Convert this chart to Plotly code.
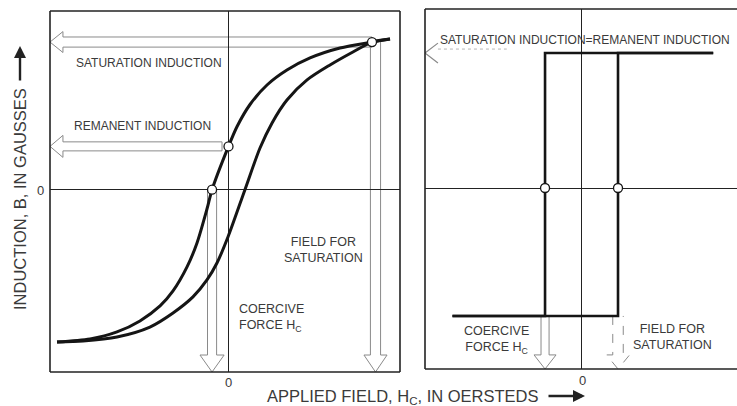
import plotly.graph_objects as go

# ---------------- data (arbitrary units) ----------------
# Left panel: soft material hysteresis loop
desc_H = [9.23, 8.2, 6.37, 4.66, 3.34, 2.2, 1.23, 0.49, 0.0, -0.94, -1.23, -1.8, -2.37, -3.17, -3.91, -5.06, -6.37, -7.91, -9.8]
desc_B = [8.35, 8.18, 7.85, 7.30, 6.63, 5.80, 4.72, 3.50, 2.4, 0.0, -1.07, -2.95, -4.28, -5.61, -6.44, -7.27, -7.88, -8.27, -8.44]
asc_H = [-9.8, -8.31, -6.37, -4.49, -3.17, -2.03, -1.23, -0.66, -0.03, 0.94, 1.8, 2.49, 3.34, 4.49, 5.8, 7.11, 8.2, 9.23]
asc_B = [-8.44, -8.38, -8.16, -7.61, -6.83, -5.94, -5.0, -4.06, -2.62, 0.0, 2.31, 3.70, 4.97, 6.08, 6.91, 7.63, 8.18, 8.35]
left_pts_H = [8.2, 0.0, -0.94]      # saturation, remanence, coercive force
left_pts_B = [8.18, 2.4, 0.0]

# Right panel: ideal square loop
sq_asc_H = [-7.4, 2.06, 2.06, 7.5]
sq_asc_B = [-7.09, -7.09, 7.48, 7.48]
sq_desc_H = [7.5, -2.11, -2.11, -7.4]
sq_desc_B = [7.48, 7.48, -7.09, -7.09]
right_pts_H = [-2.11, 2.06]
right_pts_B = [0.0, 0.0]

LX = [-10.2, 9.8]
LY = [-10.1, 9.9]
RX = [-8.97, 8.86]
RY = [-10.03, 9.92]

W, H = 737, 406
INK = "#151515"
FRAME = "#222222"
ARROW = "#8a8a8a"
TXT = "#3a3a3a"
FONT = "Liberation Sans, Arial, sans-serif"

fig = go.Figure()

def curve(x, y, xa, ya, w=3):
    fig.add_trace(go.Scatter(x=x, y=y, mode="lines", xaxis=xa, yaxis=ya,
                             line=dict(color=INK, width=w, shape="spline", smoothing=0.8),
                             hoverinfo="skip", showlegend=False))

def poly(x, y, xa, ya, w=2.6):
    fig.add_trace(go.Scatter(x=x, y=y, mode="lines", xaxis=xa, yaxis=ya,
                             line=dict(color=INK, width=w),
                             hoverinfo="skip", showlegend=False))

curve(desc_H, desc_B, "x", "y")
curve(asc_H, asc_B, "x", "y")
poly(sq_asc_H, sq_asc_B, "x2", "y2")
poly(sq_desc_H, sq_desc_B, "x2", "y2")

# ---------------- hollow arrows ----------------
def left_arrow(xt, x0, yc, hw, hh, hl, xr, yr, closed=False, dash="solid"):
    p = (f"M {x0},{yc+hw} L {xt+hl},{yc+hw} L {xt+hl},{yc+hh} L {xt},{yc} "
         f"L {xt+hl},{yc-hh} L {xt+hl},{yc-hw} L {x0},{yc-hw}")
    if closed:
        p += " Z"
    fig.add_shape(type="path", path=p, xref=xr, yref=yr,
                  line=dict(color=ARROW, width=1, dash=dash), layer="below")

def down_arrow(xc, y0, yt, hw, hh, hl, xr, yr, dash="solid"):
    p = (f"M {xc-hw},{y0} L {xc-hw},{yt+hl} L {xc-hh},{yt+hl} L {xc},{yt} "
         f"L {xc+hh},{yt+hl} L {xc+hw},{yt+hl} L {xc+hw},{y0}")
    fig.add_shape(type="path", path=p, xref=xr, yref=yr,
                  line=dict(color=ARROW, width=1, dash=dash), layer="below")

# left panel
left_arrow(LX[0], 8.2, 8.18, 0.28, 0.58, 0.74, "x", "y")
left_arrow(LX[0], -0.37, 2.4, 0.25, 0.61, 0.74, "x", "y", closed=True)
down_arrow(-0.94, 0.0, LY[0], 0.26, 0.69, 0.94, "x", "y")
down_arrow(8.4, 8.18, LY[0], 0.29, 0.66, 0.94, "x", "y")
# right panel
fig.add_shape(type="path",
              path=f"M -8.23,8.03 L -8.97,7.48 L -8.23,6.93",
              xref="x2", yref="y2", line=dict(color=ARROW, width=1.2))
fig.add_shape(type="line", x0=-8.23, x1=-4.3, y0=7.7, y1=7.7, xref="x2", yref="y2",
              line=dict(color="#b5b5b5", width=1, dash="dot"))
down_arrow(-2.11, -7.09, RY[0], 0.23, 0.63, 0.78, "x2", "y2")
down_arrow(2.06, -7.09, RY[0], 0.3, 0.66, 0.78, "x2", "y2", dash="dash")

# ---------------- marker circles ----------------
fig.add_trace(go.Scatter(x=left_pts_H, y=left_pts_B, mode="markers", xaxis="x", yaxis="y",
                         marker=dict(size=9, color="white", line=dict(color=INK, width=1.3)),
                         hoverinfo="skip", showlegend=False))
fig.add_trace(go.Scatter(x=right_pts_H, y=right_pts_B, mode="markers", xaxis="x2", yaxis="y2",
                         marker=dict(size=9, color="white", line=dict(color=INK, width=1.3)),
                         hoverinfo="skip", showlegend=False))

# ---------------- frames ----------------
for xr in ["x domain", "x2 domain"]:
    yr = "y domain" if xr == "x domain" else "y2 domain"
    segs = [(0, 0, 0, 1), (0, 1, 1, 1), (0, 0, 1, 0)]
    if xr == "x domain":
        segs.append((1, 0, 1, 1))
    for x0, y0, x1, y1 in segs:
        fig.add_shape(type="line", x0=x0, y0=y0, x1=x1, y1=y1, xref=xr, yref=yr,
                      line=dict(color=FRAME, width=1.6))

# ---------------- labels ----------------
def label(text, x, y, xr, yr, xanchor="center", align="center", size=12):
    fig.add_annotation(text=text, x=x, y=y, xref=xr, yref=yr, showarrow=False,
                       xanchor=xanchor, yanchor="middle", align=align,
                       font=dict(family=FONT, size=size, color=TXT))

label("SATURATION INDUCTION", -4.54, 7.02, "x", "y")
label("REMANENT INDUCTION", -4.89, 3.53, "x", "y")
label("FIELD FOR<br>SATURATION", 5.4, -3.34, "x", "y", size=12.5)
label("COERCIVE<br>FORCE H<sub>C</sub>", 0.5, -7.1, "x", "y", xanchor="left", align="left", size=12.5)
label("SATURATION INDUCTION=REMANENT INDUCTION", 0.17, 8.2, "x2", "y2", size=12)
label("COERCIVE<br>FORCE H<sub>C</sub>", -4.86, -8.42, "x2", "y2", size=12.5)
label("FIELD FOR<br>SATURATION", 5.2, -8.25, "x2", "y2", size=12.5)

# zero labels (outside the axis ranges, so placed in paper units)
label("0", 229 / W, 1 - 382 / H, "paper", "paper", size=13)
label("0", 582 / W, 1 - 380 / H, "paper", "paper", size=13)
label("0", 40 / W, 1 - 190 / H, "paper", "paper", size=13)

# axis titles
fig.add_annotation(text="APPLIED FIELD, H<sub>C</sub>, IN OERSTEDS", x=403 / W, y=1 - 397 / H,
                   xref="paper", yref="paper", showarrow=False, xanchor="center", yanchor="middle",
                   font=dict(family=FONT, size=16.5, color=TXT))
fig.add_annotation(x=585 / W, y=1 - 396 / H, ax=-38, ay=0,
                   xref="paper", yref="paper", axref="pixel", ayref="pixel",
                   text="", showarrow=True, arrowhead=2, arrowsize=1, arrowwidth=2.4, arrowcolor="#222")
fig.add_annotation(text="INDUCTION, B, IN GAUSSES", x=20 / W, y=1 - 199 / H,
                   xref="paper", yref="paper", showarrow=False, textangle=-90,
                   xanchor="center", yanchor="middle",
                   font=dict(family=FONT, size=16.5, color=TXT))
fig.add_annotation(x=20 / W, y=1 - 46 / H, ax=0, ay=36,
                   xref="paper", yref="paper", axref="pixel", ayref="pixel",
                   text="", showarrow=True, arrowhead=2, arrowsize=1, arrowwidth=2.4, arrowcolor="#222")

axis_common = dict(showgrid=False, showticklabels=False, ticks="", showline=False,
                   zeroline=True, zerolinecolor=FRAME, zerolinewidth=1.4, fixedrange=True)

fig.update_layout(
    width=W, height=H,
    margin=dict(l=0, r=0, t=0, b=0),
    paper_bgcolor="white", plot_bgcolor="white",
    showlegend=False,
    xaxis=dict(domain=[50 / W, 400 / W], range=LX, anchor="y", **axis_common),
    yaxis=dict(domain=[1 - 372 / H, 1 - 11 / H], range=LY, anchor="x", **axis_common),
    xaxis2=dict(domain=[425 / W, 1.0], range=RX, anchor="y2", **axis_common),
    yaxis2=dict(domain=[1 - 369 / H, 1 - 9 / H], range=RY, anchor="x2", **axis_common),
)

fig.write_html("out.html", config={"displayModeBar": False},
               post_script="document.body.style.margin='0px';document.body.style.overflow='hidden';")
